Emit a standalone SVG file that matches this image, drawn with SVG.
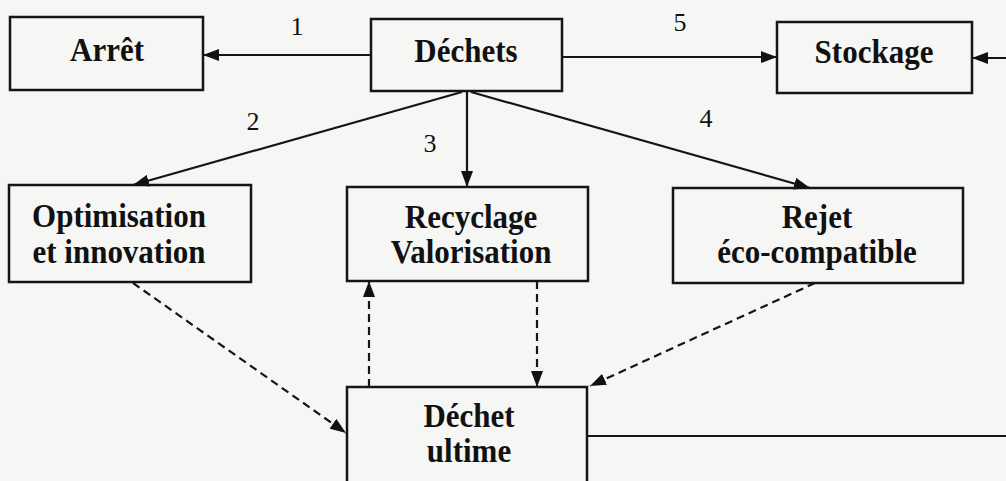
<svg xmlns="http://www.w3.org/2000/svg" width="1006" height="481" viewBox="0 0 1006 481">
<defs>
<style>
.box{fill:none;stroke:#151515;stroke-width:2.5}
.lbl{font-family:"Liberation Serif","Times New Roman",serif;font-weight:bold;font-size:31px;fill:#111;text-anchor:middle}
.num{font-family:"Liberation Serif","Times New Roman",serif;font-size:26px;fill:#111;text-anchor:middle}
.c{fill:none;stroke:#151515;stroke-width:2.2}
.d{fill:none;stroke:#151515;stroke-width:2.2;stroke-dasharray:8 5}
</style>
<marker id="ah" viewBox="0 0 16 12" refX="16" refY="6" markerWidth="16" markerHeight="12" markerUnits="userSpaceOnUse" orient="auto">
<path d="M0,0 L16,6 L0,12 Z" fill="#111"/>
</marker>
</defs>
<rect width="1006" height="481" fill="#f6f6f4"/>
<g id="arret"><rect class="box" x="10" y="17" width="193" height="73"/><text class="lbl" transform="translate(107,61) scale(1,1.12)">Arrêt</text></g>
<g id="dechets"><rect class="box" x="371" y="19" width="191" height="72"/><text class="lbl" transform="translate(466,62) scale(1,1.12)">Déchets</text></g>
<g id="stockage"><rect class="box" x="777" y="22" width="195" height="71"/><text class="lbl" transform="translate(874,63) scale(1,1.12)">Stockage</text></g>
<g id="optimisation"><rect class="box" x="9" y="185" width="242" height="97"/><text class="lbl" transform="translate(119,227) scale(1,1.12)">Optimisation</text><text class="lbl" transform="translate(119,263) scale(1,1.12)">et innovation</text></g>
<g id="recyclage"><rect class="box" x="347" y="187" width="241" height="94"/><text class="lbl" transform="translate(471,228) scale(1,1.12)">Recyclage</text><text class="lbl" transform="translate(471,263) scale(1,1.12)">Valorisation</text></g>
<g id="rejet"><rect class="box" x="673" y="188" width="290" height="95"/><text class="lbl" transform="translate(817,228) scale(1,1.12)">Rejet</text><text class="lbl" transform="translate(817,263) scale(1,1.12)">éco-compatible</text></g>
<g id="ultime"><rect class="box" x="347" y="387" width="240" height="110"/><text class="lbl" transform="translate(469,427) scale(1,1.12)">Déchet</text><text class="lbl" transform="translate(469,462) scale(1,1.12)">ultime</text></g>
<g id="connectors">
<path class="c" d="M371,55 H203" marker-end="url(#ah)"/>
<path class="c" d="M562,57 H777" marker-end="url(#ah)"/>
<path class="c" d="M462,92 L133,185" marker-end="url(#ah)"/>
<path class="c" d="M467,92 V187" marker-end="url(#ah)"/>
<path class="c" d="M471,92 L810,188" marker-end="url(#ah)"/>
<path class="c" d="M587,436 H1012 V58 H972" marker-end="url(#ah)"/>
<path class="d" d="M133,283 L346,433" marker-end="url(#ah)"/>
<path class="d" d="M369,387 V281" marker-end="url(#ah)"/>
<path class="d" d="M537,281 V387" marker-end="url(#ah)"/>
<path class="d" d="M815,283 L590,386" marker-end="url(#ah)"/>
<text class="num" x="297" y="35">1</text>
<text class="num" x="253" y="130">2</text>
<text class="num" x="430" y="152">3</text>
<text class="num" x="706" y="127">4</text>
<text class="num" x="680" y="31">5</text>
</g>
</svg>
